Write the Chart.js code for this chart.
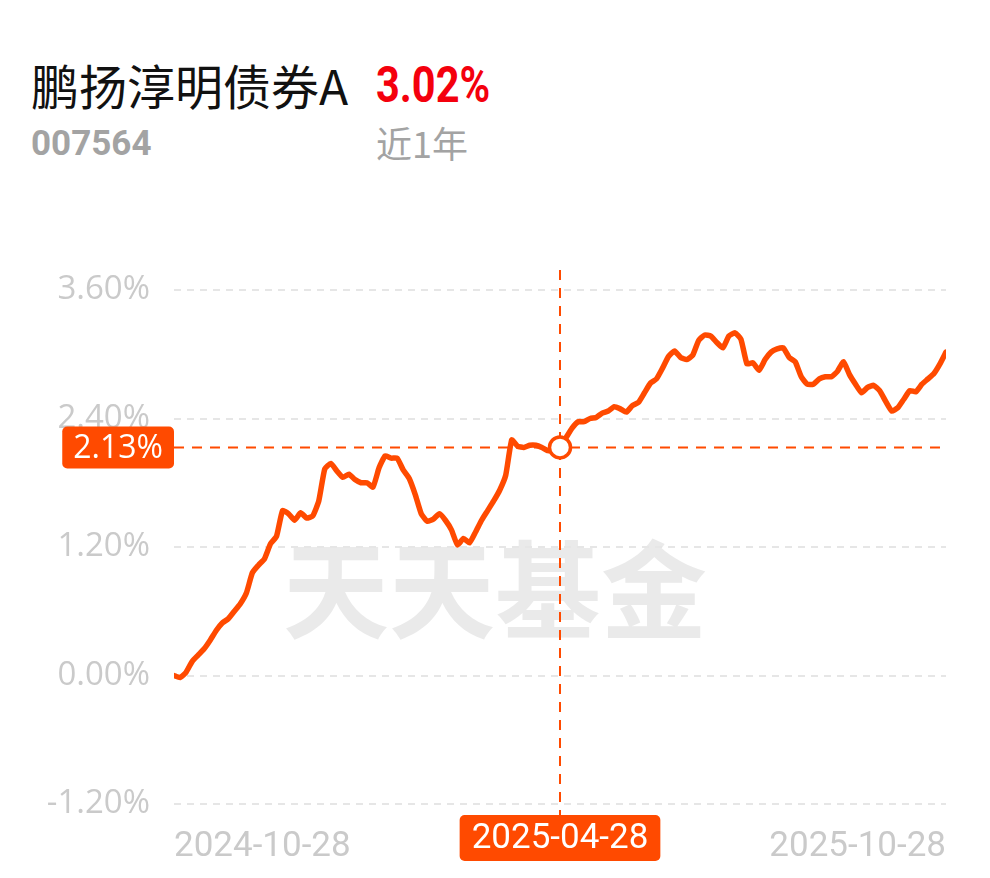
<!DOCTYPE html>
<html>
<head>
<meta charset="utf-8">
<script src="https://cdn.jsdelivr.net/npm/chart.js@4/dist/chart.umd.min.js"></script>
<style>
    body { margin: 0; background: #fff; }
    #wrap { position: relative; width: 990px; height: 878px; overflow: hidden; }
    #idChart { position: absolute; left: 0; top: 0; }
    .txt { position: absolute; white-space: nowrap; line-height: 1; }
    #fundName { left: 31px; top: 60px; font-family: "Noto Sans CJK SC", sans-serif; font-size: 48px; color: #111; }
    #fundRet { left: 376px; top: 60px; font-family: Roboto, sans-serif; font-weight: bold; font-size: 50px; color: #f4000d; transform: scaleX(0.83); transform-origin: left top; }
    #fundCode { left: 31px; top: 126px; font-family: Roboto, sans-serif; font-weight: bold; font-size: 35px; color: #a3a3a3; }
    #fundPeriod { left: 376px; top: 124px; font-family: "Noto Sans CJK SC", sans-serif; font-size: 36px; color: #a3a3a3; }
</style>
</head>
<body>
<div id="wrap">
    <div class="txt" id="fundName">鹏扬淳明债券A</div>
    <div class="txt" id="fundRet">3.02%</div>
    <div class="txt" id="fundCode">007564</div>
    <div class="txt" id="fundPeriod">近1年</div>
    <canvas id="idChart" width="990" height="878"></canvas>
</div>
<script>
// 近1年 cumulative return (%), evenly spaced in time
var aValues = [
    0.00, -0.02, 0.03, 0.13, 0.19, 0.25, 0.33, 0.42, 0.49, 0.53,
    0.60, 0.67, 0.77, 0.96, 1.03, 1.09, 1.23, 1.30, 1.54, 1.51,
    1.45, 1.52, 1.47, 1.49, 1.63, 1.93, 1.98, 1.91, 1.85, 1.88,
    1.83, 1.80, 1.80, 1.76, 1.94, 2.05, 2.03, 2.03, 1.92, 1.84,
    1.69, 1.51, 1.44, 1.46, 1.51, 1.45, 1.36, 1.22, 1.28, 1.24,
    1.34, 1.45, 1.54, 1.63, 1.73, 1.87, 2.20, 2.14, 2.13, 2.15,
    2.15, 2.13, 2.10, 2.11, 2.13, 2.22, 2.31, 2.37, 2.37, 2.40,
    2.41, 2.45, 2.47, 2.51, 2.49, 2.46, 2.52, 2.55, 2.64, 2.73,
    2.77, 2.87, 2.98, 3.03, 2.97, 2.95, 2.99, 3.13, 3.18, 3.17,
    3.11, 3.06, 3.17, 3.20, 3.14, 2.91, 2.92, 2.85, 2.95, 3.02,
    3.05, 3.06, 2.97, 2.93, 2.79, 2.72, 2.72, 2.77, 2.79, 2.79,
    2.84, 2.93, 2.81, 2.72, 2.64, 2.69, 2.71, 2.66, 2.56, 2.47,
    2.50, 2.58, 2.66, 2.65, 2.72, 2.77, 2.82, 2.91, 3.02
];
var aTickLabels = ['2024-10-28', '2025-04-28', '2025-10-28'];
var aYTicks = [-1.2, 0, 1.2, 2.4, 3.6];
var iCrossIndex = 64;

var sOrange = 'rgb(255, 74, 0)';
var sTickColor = '#cacaca';

var aData = [];
for (var i = 0; i < aValues.length; i++) {
    aData.push({ x: i, y: aValues[i] });
}

function roundRect(ctx, x, y, w, h, r) {
    ctx.beginPath();
    ctx.moveTo(x + r, y);
    ctx.arcTo(x + w, y, x + w, y + h, r);
    ctx.arcTo(x + w, y + h, x, y + h, r);
    ctx.arcTo(x, y + h, x, y, r);
    ctx.arcTo(x, y, x + w, y, r);
    ctx.closePath();
}

// watermark behind the chart
const watermarkPlugin = {
    id: 'watermark',
    beforeDraw: function (chart) {
        var ctx = chart.ctx;
        var a = chart.chartArea;
        ctx.save();
        ctx.font = 'bold 106px "Noto Sans CJK SC"';
        ctx.fillStyle = '#eaeaea';
        ctx.textAlign = 'center';
        ctx.textBaseline = 'middle';
        ctx.fillText('天天基金', (a.left + a.right) / 2 - 65, a.top + 300);
        ctx.restore();
    }
};

// crosshair, point marker and value labels
const crosshairPlugin = {
    id: 'crosshair',
    afterDraw: function (chart) {
        var ctx = chart.ctx;
        var a = chart.chartArea;
        var px = chart.scales.x.getPixelForValue(iCrossIndex);
        var py = chart.scales.y.getPixelForValue(aValues[iCrossIndex]);
        var sVal = aValues[iCrossIndex].toFixed(2) + '%';

        ctx.save();
        ctx.strokeStyle = sOrange;
        ctx.lineWidth = 2;
        ctx.setLineDash([10, 8]);
        ctx.beginPath();
        ctx.moveTo(px, a.top - 20);
        ctx.lineTo(px, a.bottom + 12);
        ctx.stroke();
        ctx.beginPath();
        ctx.moveTo(a.left, py);
        ctx.lineTo(a.right, py);
        ctx.stroke();
        ctx.setLineDash([]);

        // value box on the y axis
        ctx.font = '32px "Open Sans"';
        var w = ctx.measureText(sVal).width + 22;
        ctx.fillStyle = sOrange;
        roundRect(ctx, a.left - w, py - 21, w, 42, 5);
        ctx.fill();
        ctx.fillStyle = '#fff';
        ctx.textAlign = 'center';
        ctx.textBaseline = 'middle';
        ctx.fillText(sVal, a.left - w / 2, py + 1);

        // date box on the x axis
        ctx.font = '35px Roboto';
        var wd = ctx.measureText(aTickLabels[1]).width + 24;
        ctx.fillStyle = sOrange;
        roundRect(ctx, px - wd / 2, a.bottom + 11, wd, 46, 5);
        ctx.fill();
        ctx.fillStyle = '#fff';
        ctx.fillText(aTickLabels[1], px, a.bottom + 35);

        // point marker
        ctx.beginPath();
        ctx.arc(px, py, 10.5, 0, Math.PI * 2);
        ctx.fillStyle = '#fff';
        ctx.fill();
        ctx.lineWidth = 3.5;
        ctx.strokeStyle = sOrange;
        ctx.stroke();
        ctx.restore();
    }
};

const config = {
    type: 'line',
    data: {
        datasets: [{
            label: '鹏扬淳明债券A',
            data: aData,
            borderColor: sOrange,
            backgroundColor: sOrange,
            borderWidth: 5.5,
            pointRadius: 0,
            tension: 0.15,
            borderJoinStyle: 'round',
            borderCapStyle: 'round'
        }]
    },
    options: {
        responsive: false,
        devicePixelRatio: 1,
        animation: false,
        layout: {
            padding: { top: 290, right: 44, bottom: 0, left: 0 }
        },
        plugins: {
            legend: { display: false },
            tooltip: { enabled: false }
        },
        scales: {
            x: {
                type: 'linear',
                min: 0,
                max: aValues.length - 1,
                grid: { display: false, drawTicks: false },
                border: { display: false },
                afterFit: function (scale) { scale.height = 74; },
                afterBuildTicks: function (scale) {
                    scale.ticks = [{ value: 0 }, { value: aValues.length - 1 }];
                },
                ticks: {
                    align: 'inner',
                    padding: 22,
                    color: sTickColor,
                    font: { family: 'Roboto', size: 35 },
                    maxRotation: 0,
                    autoSkip: false,
                    callback: function (value) {
                        return value === 0 ? aTickLabels[0] : aTickLabels[2];
                    }
                }
            },
            y: {
                min: -1.2,
                max: 3.6,
                grid: {
                    color: '#e6e6e6',
                    lineWidth: 2,
                    drawTicks: false
                },
                border: { display: false, dash: [7, 6] },
                afterFit: function (scale) { scale.width = 174; },
                afterBuildTicks: function (scale) {
                    scale.ticks = aYTicks.map(function (v) { return { value: v }; });
                },
                ticks: {
                    padding: 24,
                    color: sTickColor,
                    font: { family: '"Open Sans"', size: 33 },
                    callback: function (value) {
                        return value.toFixed(2) + '%';
                    }
                }
            }
        }
    },
    plugins: [watermarkPlugin, crosshairPlugin]
};

const oChart = new Chart(document.getElementById('idChart'), config);
</script>
</body>
</html>
